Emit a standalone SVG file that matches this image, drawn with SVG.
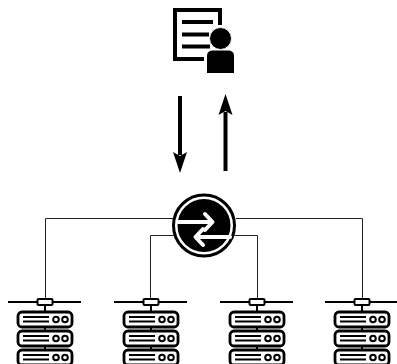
<svg xmlns="http://www.w3.org/2000/svg" width="397" height="364" viewBox="0 0 397 364">
<style>
.k{fill:#000}
.w{fill:none;stroke:#000;stroke-width:4}
.c{fill:none;stroke:#222;stroke-width:1}
.box{fill:#fff;stroke:#000;stroke-width:2.800}
.ln{stroke:#000;stroke-width:1.800;fill:none}
.dot{fill:none;stroke:#000;stroke-width:2}
.arrow{stroke:#fff;stroke-width:4;fill:none;stroke-linecap:round;stroke-linejoin:round}
</style>
<defs>
<g id="srv">
<path d="M-37 0H36" stroke="#000" stroke-width="2" fill="none"/>
<rect x="-7.500" y="-3" width="15" height="6" rx="1" fill="#fff" stroke="#000" stroke-width="2"/>
<path d="M0 3V10M0 24V29M0 43V48" stroke="#000" stroke-width="2" fill="none"/>
<g id="u"><rect class="box" x="-27" y="10" width="54" height="15" rx="4"/><path class="ln" d="M-22 15H4M-22 19.500H4"/><circle class="dot" cx="11" cy="17.500" r="2.800"/><circle class="dot" cx="20" cy="17.500" r="2.800"/></g>
<use href="#u" y="19"/>
<use href="#u" y="38"/>
</g>
</defs>
<g id="connectors">
<path class="c" d="M45.500 298V218.500H173M150.500 298V235.500H176M257.500 298V235.500H232M362.500 298V218.500H236"/>
<path d="M180 96V155" stroke="#000" stroke-width="4" fill="none"/>
<path d="M180 173L173 152L180 156L187 152Z" class="k"/>
<path d="M225.500 171V112" stroke="#000" stroke-width="4" fill="none"/>
<path d="M225.500 94L218.500 115L225.500 111L232.500 115Z" class="k"/>
</g>
<g id="user">
<path d="M204 59H175V10H220V25" class="w"/>
<path d="M182 22H213M182 34.500H209M182 46.500H210" stroke="#000" stroke-width="4" fill="none"/>
<circle class="k" cx="220.500" cy="38.500" r="11" stroke="#fff" stroke-width="1"/>
<path class="k" d="M207 73V56Q207 50.500 213 50.500H228Q234 50.500 234 56V73Z"/>
</g>
<g id="router">
<circle cx="204" cy="225.500" r="30.500" fill="#fff" stroke="#000" stroke-width="3"/>
<circle cx="204" cy="225.500" r="26.500" class="k"/>
<path class="arrow" d="M178 222H211" stroke-linecap="butt"/>
<path class="arrow" d="M205 214L212.500 222L205 230"/>
<path class="arrow" d="M230 237H197"/>
<path class="arrow" d="M203 229L195.500 237L203 245"/>
</g>
<g id="server1" transform="translate(45 302)"><use href="#srv"/></g>
<g id="server2" transform="translate(151 302)"><use href="#srv"/></g>
<g id="server3" transform="translate(257 302)"><use href="#srv"/></g>
<g id="server4" transform="translate(362 302)"><use href="#srv"/></g>
</svg>
